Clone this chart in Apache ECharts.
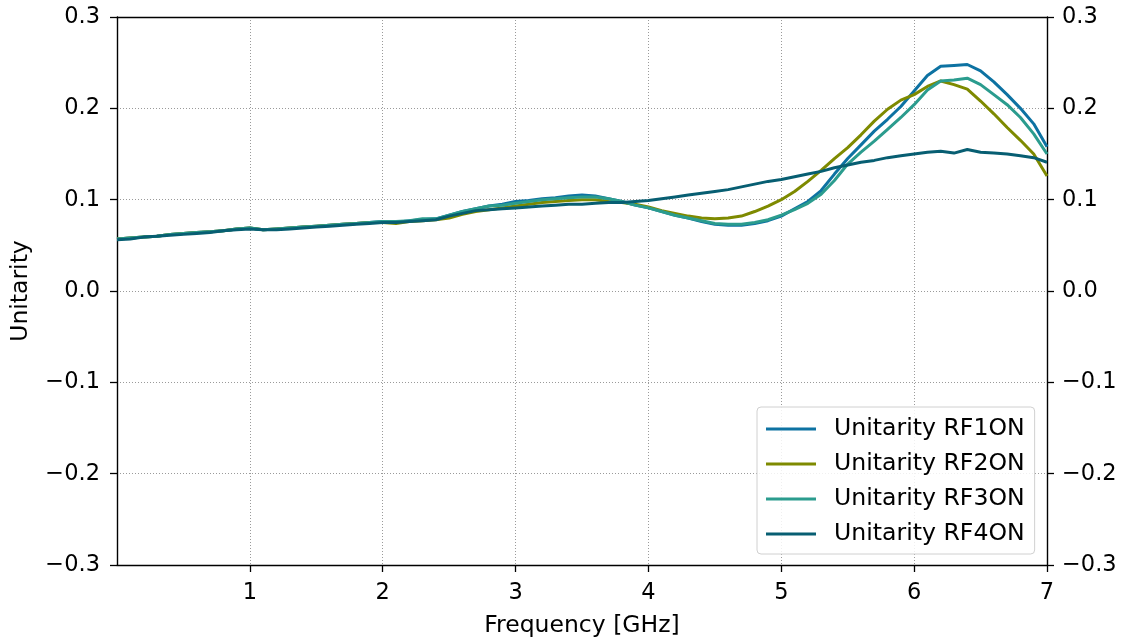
<!DOCTYPE html>
<html>
<head>
<meta charset="utf-8">
<script src="https://cdn.jsdelivr.net/npm/echarts@6/dist/echarts.min.js"></script>
<style>
  html, body { margin: 0; padding: 0; background: #fff; }
  #chart { width: 1125px; height: 643px; }
</style>
</head>
<body>
<div id="chart"></div>
<script>
// Frequency sweep in GHz
const freq = [
  0.0, 0.1, 0.2, 0.3, 0.4, 0.5, 0.6, 0.7, 0.8, 0.9,
  1.0, 1.1, 1.2, 1.3, 1.4, 1.5, 1.6, 1.7, 1.8, 1.9,
  2.0, 2.1, 2.2, 2.3, 2.4, 2.5, 2.6, 2.7, 2.8, 2.9,
  3.0, 3.1, 3.2, 3.3, 3.4, 3.5, 3.6, 3.7, 3.8, 3.9,
  4.0, 4.1, 4.2, 4.3, 4.4, 4.5, 4.6, 4.7, 4.8, 4.9,
  5.0, 5.1, 5.2, 5.3, 5.4, 5.5, 5.6, 5.7, 5.8, 5.9,
  6.0, 6.1, 6.2, 6.3, 6.4, 6.5, 6.6, 6.7, 6.8, 6.9,
  7.0
];

const rf1 = [
  0.057, 0.058, 0.059, 0.060, 0.062, 0.063, 0.064, 0.065, 0.066, 0.068,
  0.069, 0.067, 0.068, 0.069, 0.070, 0.071, 0.072, 0.073, 0.074, 0.075,
  0.076, 0.075, 0.077, 0.078, 0.079, 0.083, 0.087, 0.090, 0.093, 0.095,
  0.098, 0.099, 0.101, 0.102, 0.104, 0.105, 0.104, 0.101, 0.098, 0.094,
  0.091, 0.087, 0.083, 0.080, 0.076, 0.073, 0.072, 0.072, 0.074, 0.077,
  0.082, 0.090, 0.098, 0.110, 0.128, 0.145, 0.160, 0.175, 0.188, 0.202,
  0.219, 0.236, 0.246, 0.247, 0.248, 0.241, 0.229, 0.215, 0.200, 0.183,
  0.158
];

const rf2 = [
  0.057, 0.058, 0.059, 0.060, 0.062, 0.063, 0.064, 0.065, 0.066, 0.068,
  0.069, 0.067, 0.068, 0.069, 0.070, 0.071, 0.072, 0.073, 0.074, 0.075,
  0.075, 0.074, 0.076, 0.077, 0.078, 0.080, 0.084, 0.087, 0.089, 0.091,
  0.093, 0.095, 0.097, 0.098, 0.099, 0.100, 0.100, 0.098, 0.097, 0.095,
  0.092, 0.088, 0.085, 0.082, 0.080, 0.079, 0.080, 0.082, 0.087, 0.093,
  0.100, 0.109, 0.120, 0.132, 0.145, 0.157, 0.171, 0.186, 0.199, 0.209,
  0.215, 0.224, 0.230, 0.226, 0.221, 0.208, 0.194, 0.179, 0.165, 0.150,
  0.126
];

const rf3 = [
  0.057, 0.058, 0.059, 0.060, 0.062, 0.063, 0.064, 0.065, 0.066, 0.068,
  0.069, 0.067, 0.068, 0.069, 0.070, 0.071, 0.072, 0.073, 0.074, 0.075,
  0.076, 0.076, 0.077, 0.079, 0.079, 0.083, 0.087, 0.090, 0.093, 0.094,
  0.096, 0.098, 0.100, 0.101, 0.102, 0.103, 0.103, 0.101, 0.098, 0.094,
  0.091, 0.087, 0.083, 0.080, 0.077, 0.074, 0.073, 0.073, 0.075, 0.078,
  0.083, 0.089, 0.096, 0.106, 0.121, 0.139, 0.152, 0.164, 0.177, 0.190,
  0.204, 0.220, 0.230, 0.231, 0.233, 0.226, 0.215, 0.204, 0.190, 0.172,
  0.150
];

const rf4 = [
  0.056, 0.057, 0.059, 0.060, 0.061, 0.062, 0.063, 0.064, 0.066, 0.067,
  0.068, 0.067, 0.067, 0.068, 0.069, 0.070, 0.071, 0.072, 0.073, 0.074,
  0.075, 0.075, 0.076, 0.077, 0.078, 0.082, 0.085, 0.088, 0.089, 0.090,
  0.091, 0.092, 0.093, 0.094, 0.095, 0.095, 0.096, 0.097, 0.097, 0.098,
  0.099, 0.101, 0.103, 0.105, 0.107, 0.109, 0.111, 0.114, 0.117, 0.120,
  0.122, 0.125, 0.128, 0.131, 0.135, 0.138, 0.141, 0.143, 0.146, 0.148,
  0.150, 0.152, 0.153, 0.151, 0.155, 0.152, 0.151, 0.150, 0.148, 0.146,
  0.141
];

const seriesNames = ['Unitarity RF1ON', 'Unitarity RF2ON', 'Unitarity RF3ON', 'Unitarity RF4ON'];
const seriesValues = [rf1, rf2, rf3, rf4];
const seriesColors = ['#0d72a2', '#7e8a00', '#2b9c8e', '#075e72'];

const xTicks = [1, 2, 3, 4, 5, 6, 7];

const FONT = 'DejaVu Sans';
const TICK_FONT = 22.5;
const TITLE_FONT = 23.5;

const fmtY = v => {
  const s = Math.abs(v).toFixed(1);
  return v < -1e-9 ? '\u2212' + s : s;
};

const axisLineStyle = { color: '#000', width: 1.4 };
const tickStyle = { show: true, inside: false, length: 7, lineStyle: { color: '#000', width: 1.3 } };
const gridLineStyle = { color: '#9a9a9a', width: 1, type: [1, 2] };

const yAxisBase = {
  type: 'value',
  min: -0.3,
  max: 0.3,
  interval: 0.1,
  axisLine: { show: true, onZero: false, lineStyle: axisLineStyle },
  axisTick: tickStyle
};

const chart = echarts.init(document.getElementById('chart'), null, { renderer: 'canvas' });
chart.setOption({
  animation: false,
  backgroundColor: '#fff',
  grid: { left: 117, right: 78, top: 17, bottom: 77, containLabel: false },
  xAxis: [
    {
      type: 'value',
      min: 0,
      max: 7,
      interval: 1,
      name: 'Frequency [GHz]',
      nameLocation: 'middle',
      nameGap: 49,
      nameTextStyle: { color: '#000', fontFamily: FONT, fontSize: TITLE_FONT },
      axisLine: { show: true, onZero: false, lineStyle: axisLineStyle },
      axisTick: Object.assign({}, tickStyle, { customValues: xTicks }),
      axisLabel: { color: '#000', fontFamily: FONT, fontSize: TICK_FONT, margin: 17, customValues: xTicks },
      splitLine: { show: true, lineStyle: gridLineStyle }
    },
    {
      type: 'value',
      position: 'top',
      min: 0,
      max: 7,
      axisLine: { show: true, onZero: false, lineStyle: axisLineStyle },
      axisTick: { show: false },
      axisLabel: { show: false },
      splitLine: { show: false }
    }
  ],
  yAxis: [
    Object.assign({}, yAxisBase, {
      position: 'left',
      name: 'Unitarity',
      nameLocation: 'middle',
      nameGap: 84,
      nameRotate: 90,
      nameTextStyle: { color: '#000', fontFamily: FONT, fontSize: TITLE_FONT },
      axisLabel: { color: '#000', fontFamily: FONT, fontSize: TICK_FONT, margin: 17, formatter: fmtY },
      splitLine: { show: true, lineStyle: gridLineStyle }
    }),
    Object.assign({}, yAxisBase, {
      position: 'right',
      axisLabel: { color: '#000', fontFamily: FONT, fontSize: TICK_FONT, margin: 15, formatter: fmtY },
      splitLine: { show: false }
    })
  ],
  legend: {
    left: 757,
    top: 407,
    orient: 'vertical',
    icon: 'rect',
    itemWidth: 50,
    itemHeight: 3,
    itemGap: 11,
    padding: [10, 10, 8, 9],
    backgroundColor: 'rgba(255,255,255,0.85)',
    borderColor: '#d0d0d0',
    borderWidth: 1,
    borderRadius: 4,
    textStyle: { color: '#000', fontFamily: FONT, fontSize: 23.6, lineHeight: 23, padding: [0, 0, 0, 13] },
    data: seriesNames
  },
  series: seriesNames.map((name, i) => ({
    name: name,
    type: 'line',
    xAxisIndex: 0,
    yAxisIndex: 0,
    showSymbol: false,
    symbol: 'none',
    z: 2 + i,
    color: seriesColors[i],
    lineStyle: { width: 3, color: seriesColors[i] },
    data: freq.map((f, k) => [f, seriesValues[i][k]])
  }))
});
</script>
</body>
</html>
